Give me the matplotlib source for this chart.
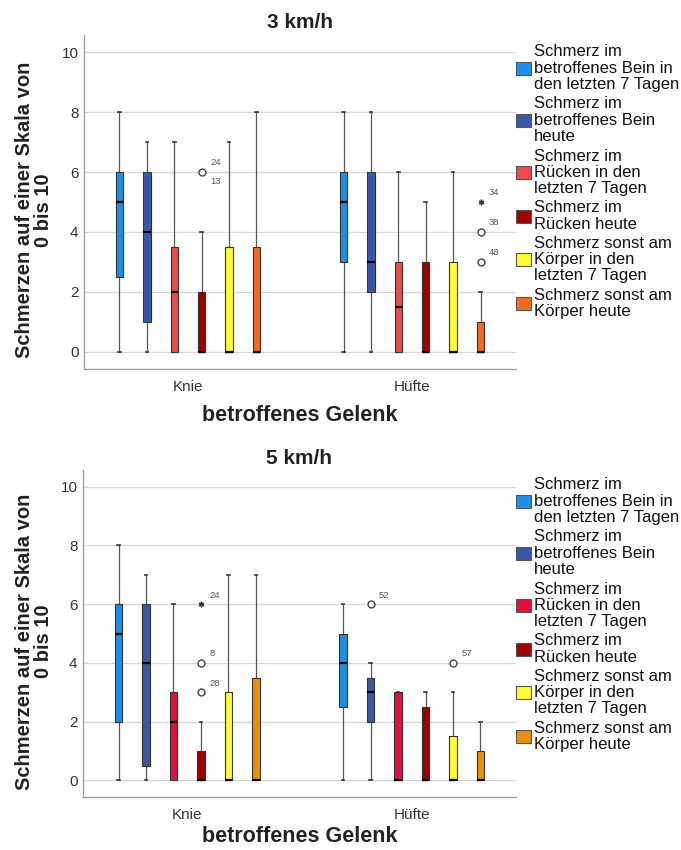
import matplotlib
matplotlib.use("Agg")
import matplotlib.pyplot as plt
from matplotlib.patches import Rectangle

plt.rcParams['font.family'] = ['Liberation Sans', 'DejaVu Sans']

# ---------------- data ----------------
groups = ["Knie", "Hüfte"]
series_labels = [
    "Schmerz im\nbetroffenes Bein in\nden letzten 7 Tagen",
    "Schmerz im\nbetroffenes Bein\nheute",
    "Schmerz im\nRücken in den\nletzten 7 Tagen",
    "Schmerz im\nRücken heute",
    "Schmerz sonst am\nKörper in den\nletzten 7 Tagen",
    "Schmerz sonst am\nKörper heute",
]
colors_3 = ["#1f8fe5", "#3b57a8", "#f04b4b", "#a00000", "#ffff33", "#f5691e"]
colors_5 = ["#1f8fe5", "#3b57a8", "#e0123f", "#a00000", "#ffff33", "#e8900a"]
yticks = [0, 2, 4, 6, 8, 10]

# 3 km/h  (order: Knie 6 series, then Hüfte 6 series)
p3_lo  = [0, 0, 0, 0, 0, 0,   0, 0, 0, 0, 0, 0]
p3_q1  = [2.5, 1, 0, 0, 0, 0, 3, 2, 0, 0, 0, 0]
p3_med = [5, 4, 2, 0, 0, 0,   5, 3, 1.5, 0, 0, 0]
p3_q3  = [6, 6, 3.5, 2, 3.5, 3.5, 6, 6, 3, 3, 3, 1]
p3_hi  = [8, 7, 7, 4, 7, 8,   8, 8, 6, 5, 6, 2]
p3_out_box   = [3, 3, 11, 11, 11]
p3_out_val   = [6, 6, 5, 4, 3]
p3_out_label = ["24", "13", "34", "38", "48"]
p3_out_kind  = ["o", "o", "*", "o", "o"]

# 5 km/h
p5_lo  = [0, 0, 0, 0, 0, 0,   0, 0, 0, 0, 0, 0]
p5_q1  = [2, 0.5, 0, 0, 0, 0, 2.5, 2, 0, 0, 0, 0]
p5_med = [5, 4, 2, 0, 0, 0,   4, 3, 0, 0, 0, 0]
p5_q3  = [6, 6, 3, 1, 3, 3.5, 5, 3.5, 3, 2.5, 1.5, 1]
p5_hi  = [8, 7, 6, 2, 7, 7,   6, 4, 3, 3, 3, 2]
p5_out_box   = [3, 3, 3, 7, 10]
p5_out_val   = [6, 4, 3, 6, 4]
p5_out_label = ["24", "8", "28", "52", "57"]
p5_out_kind  = ["*", "o", "o", "o", "o"]

# ---------------- layout helpers ----------------
W, H = 681, 850
def fx(px):
    return px / W
def fy(py):
    return 1 - py / H

fig = plt.figure(figsize=(W / 100, H / 100), dpi=100)

step = 0.1223
offsets = [(i - 2.5) * step for i in range(6)]
positions = [g + o for g in range(len(groups)) for o in offsets]


def panel(ax_px, title, lo, q1, med, q3, hi, ob, ov, ol, ok, colors, leg_top, xlab_off):
    x0, y0, x1, y1 = ax_px
    ax = fig.add_axes([fx(x0), fy(y1), fx(x1) - fx(x0), fy(y0) - fy(y1)])
    stats = []
    for i in range(len(med)):
        stats.append(dict(whislo=lo[i], q1=q1[i], med=med[i], q3=q3[i],
                          whishi=hi[i], fliers=[]))
    bp = ax.bxp(stats, positions=positions, widths=0.033, patch_artist=True,
                showfliers=False, capwidths=0.012,
                boxprops=dict(edgecolor="#333333", linewidth=0.8),
                medianprops=dict(color="black", linewidth=1.6),
                whiskerprops=dict(color="#555555", linewidth=0.9),
                capprops=dict(color="#333333", linewidth=1.2))
    for i, b in enumerate(bp["boxes"]):
        b.set_facecolor(colors[i % 6])
        b.set_zorder(3)
    for m in bp["medians"]:
        m.set_zorder(4)

    # outliers
    seen = {}
    for b, v, lab, kind in zip(ob, ov, ol, ok):
        x = positions[b]
        key = (b, v)
        n = seen.get(key, 0)
        seen[key] = n + 1
        if n == 0:
            if kind == "o":
                ax.plot(x, v, marker="o", ms=5, mfc="white", mec="#444444",
                        mew=1.0, zorder=5)
            else:
                ax.plot(x, v, marker=(6, 2, 0), ms=4, color="#333333",
                        mew=1.0, zorder=5)
            dy = 6.5
        else:
            dy = -7.0
        ax.annotate(lab, (x, v), xytext=(6.0, dy), textcoords="offset points",
                    fontsize=6.8, color="#555555", ha="left", va="center")

    ax.set_xlim(-0.464, 1.464)
    ax.set_ylim(-0.567, 10.567)
    ax.set_yticks(yticks)
    ax.set_xticks(range(len(groups)))
    ax.set_xticklabels(groups)
    ax.tick_params(axis="both", length=0, labelsize=11, labelcolor="#333333")
    ax.tick_params(axis="y", pad=4)
    ax.tick_params(axis="x", pad=8)
    ax.yaxis.grid(True, color="#d6d6d6", linewidth=0.9)
    ax.set_axisbelow(True)
    for s in ["top", "right"]:
        ax.spines[s].set_visible(False)
    for s in ["left", "bottom"]:
        ax.spines[s].set_color("#a0a0a0")
        ax.spines[s].set_linewidth(1.0)

    cx = (x0 + x1) / 2
    fig.text(fx(cx), fy(y0 - 12), title, ha="center", va="center",
             fontsize=15, fontweight="bold", color="#222222")
    fig.text(fx(cx), fy(y1 + xlab_off), "betroffenes Gelenk", ha="center",
             va="center", fontsize=15.5, fontweight="bold", color="#222222")
    fig.text(fx(34), fy((y0 + y1) / 2 + 8), "Schmerzen auf einer Skala von\n0 bis 10",
             rotation=90, ha="center", va="center", fontsize=14.5,
             fontweight="bold", color="#222222", linespacing=1.0)

    # manual legend
    lh = 16.7
    gap = 2.0
    top = leg_top
    for lab, c in zip(series_labels, colors):
        n = lab.count("\n") + 1
        hgt = n * lh
        cy = top + hgt / 2
        fig.patches.append(Rectangle((fx(516), fy(cy + 6.5)), fx(15), 13 / H,
                                     transform=fig.transFigure,
                                     facecolor=c, edgecolor="#555555",
                                     linewidth=0.8))
        fig.text(fx(534), fy(cy), lab, ha="left", va="center", fontsize=12,
                 color="#111111", linespacing=1.1)
        top += hgt + gap
    return ax


panel((84, 35, 516, 369), "3 km/h", p3_lo, p3_q1, p3_med, p3_q3, p3_hi,
      p3_out_box, p3_out_val, p3_out_label, p3_out_kind, colors_3, 43, 46)
panel((83, 470, 516, 797), "5 km/h", p5_lo, p5_q1, p5_med, p5_q3, p5_hi,
      p5_out_box, p5_out_val, p5_out_label, p5_out_kind, colors_5, 476, 40)

fig.savefig("out.png", dpi=100)
